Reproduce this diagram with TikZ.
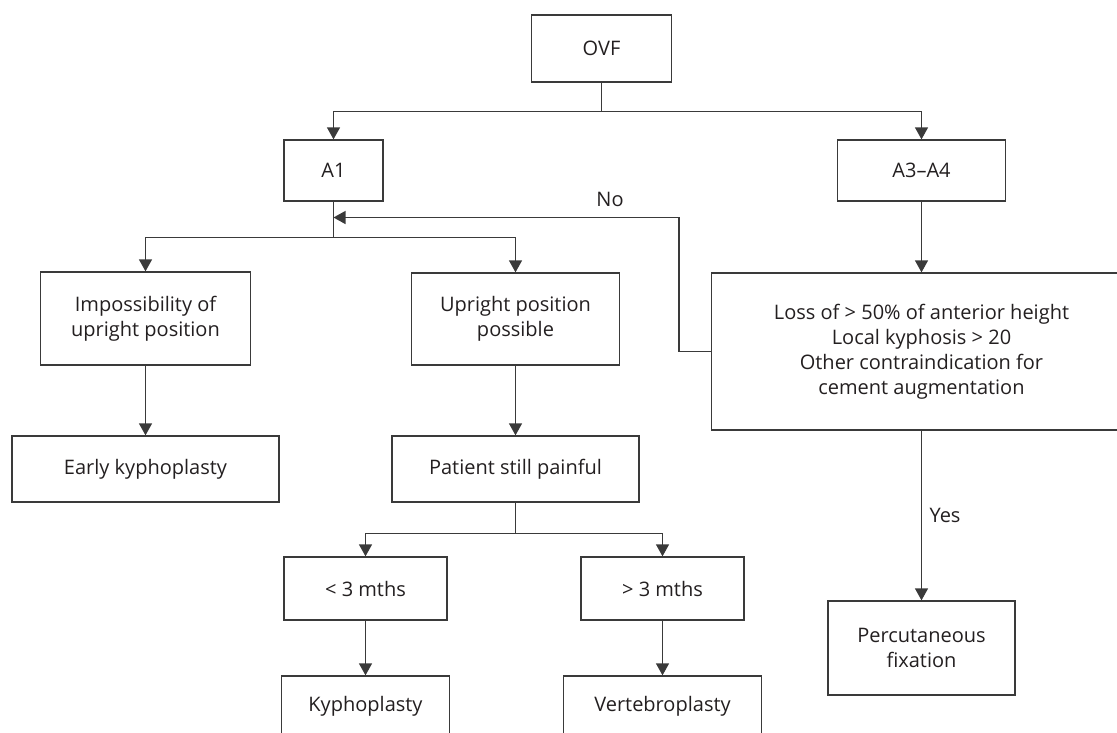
\documentclass[tikz,border=0pt]{standalone}
\usepackage{fontspec}
\setmainfont{Open Sans}
\usetikzlibrary{arrows.meta}
\definecolor{linegray}{HTML}{3A3A3A}
\definecolor{textgray}{HTML}{231F20}
\begin{document}
\begin{tikzpicture}[x=1pt,y=-1pt,
        box/.style={draw=linegray,line width=1.3pt,text=textgray,align=center,
                    inner sep=0pt,font=\fontsize{20}{25}\selectfont},
        ln/.style={draw=linegray,line width=1.3pt},
        arr/.style={ln,-{Triangle[length=12pt,width=13pt]}},
        lbl/.style={text=textgray,font=\fontsize{20}{24}\selectfont}]
        \useasboundingbox (0,0) rectangle (1117,732);
        % boxes
        \node[box,minimum width=140,minimum height=67] (ovf) at (601.5,48.5) {OVF};
        \node[box,minimum width=99,minimum height=61] (a1) at (333.5,170.5) {A1};
        \node[box,minimum width=168,minimum height=61] (a34) at (921.5,170.5) {A3--A4};
        \node[box,minimum width=210,minimum height=93] (imp) at (145.5,318.5) {Impossibility of\\upright position};
        \node[box,minimum width=208,minimum height=92] (upr) at (515.5,319) {Upright position\\possible};
        \node[box,minimum width=420,minimum height=157] (crit) at (921.5,351.5)
            {Loss of > 50\% of anterior height\\Local kyphosis > 20\\Other contraindication for\\cement augmentation};
        \node[box,minimum width=267,minimum height=66] (early) at (145.5,469) {Early kyphoplasty};
        \node[box,minimum width=247,minimum height=66] (pain) at (515.5,469) {Patient still painful};
        \node[box,minimum width=163,minimum height=63] (lt3) at (365.5,588.5) {< 3 mths};
        \node[box,minimum width=163,minimum height=63] (gt3) at (662.5,588.5) {> 3 mths};
        \node[box,minimum width=168,minimum height=60] (kyp) at (365.5,706) {Kyphoplasty};
        \node[box,minimum width=198,minimum height=60] (vert) at (662.5,706) {Vertebroplasty};
        \node[box,minimum width=187,minimum height=94] (perc) at (921.5,648) {Percutaneous\\fixation};
        % labels
        \node[lbl] (no) at (610,199) {No};
        \node[lbl,anchor=west] (yes) at (926,515) {Yes};
        % junctions
        \coordinate (j1) at (601.5,111.5);
        \coordinate (j2) at (333.5,237.5);
        \coordinate (j3) at (515.5,533.5);
        \coordinate (back) at (333.5,217.5);
        % connectors
        \draw[ln] (ovf) -- (j1);
        \draw[arr] (j1) -| (a1);
        \draw[arr] (j1) -| (a34);
        \draw[ln] (a1) -- (j2);
        \draw[arr] (j2) -| (imp);
        \draw[arr] (j2) -| (upr);
        \draw[arr] (crit.west) -- ++(-32,0) |- (back);
        \draw[arr] (a34) -- (crit);
        \draw[arr] (crit) -- (perc);
        \draw[arr] (imp) -- (early);
        \draw[arr] (upr) -- (pain);
        \draw[ln] (pain) -- (j3);
        \draw[arr] (j3) -| (lt3);
        \draw[arr] (j3) -| (gt3);
        \draw[arr] (lt3) -- (kyp);
        \draw[arr] (gt3) -- (vert);
    \end{tikzpicture}
\end{document}
